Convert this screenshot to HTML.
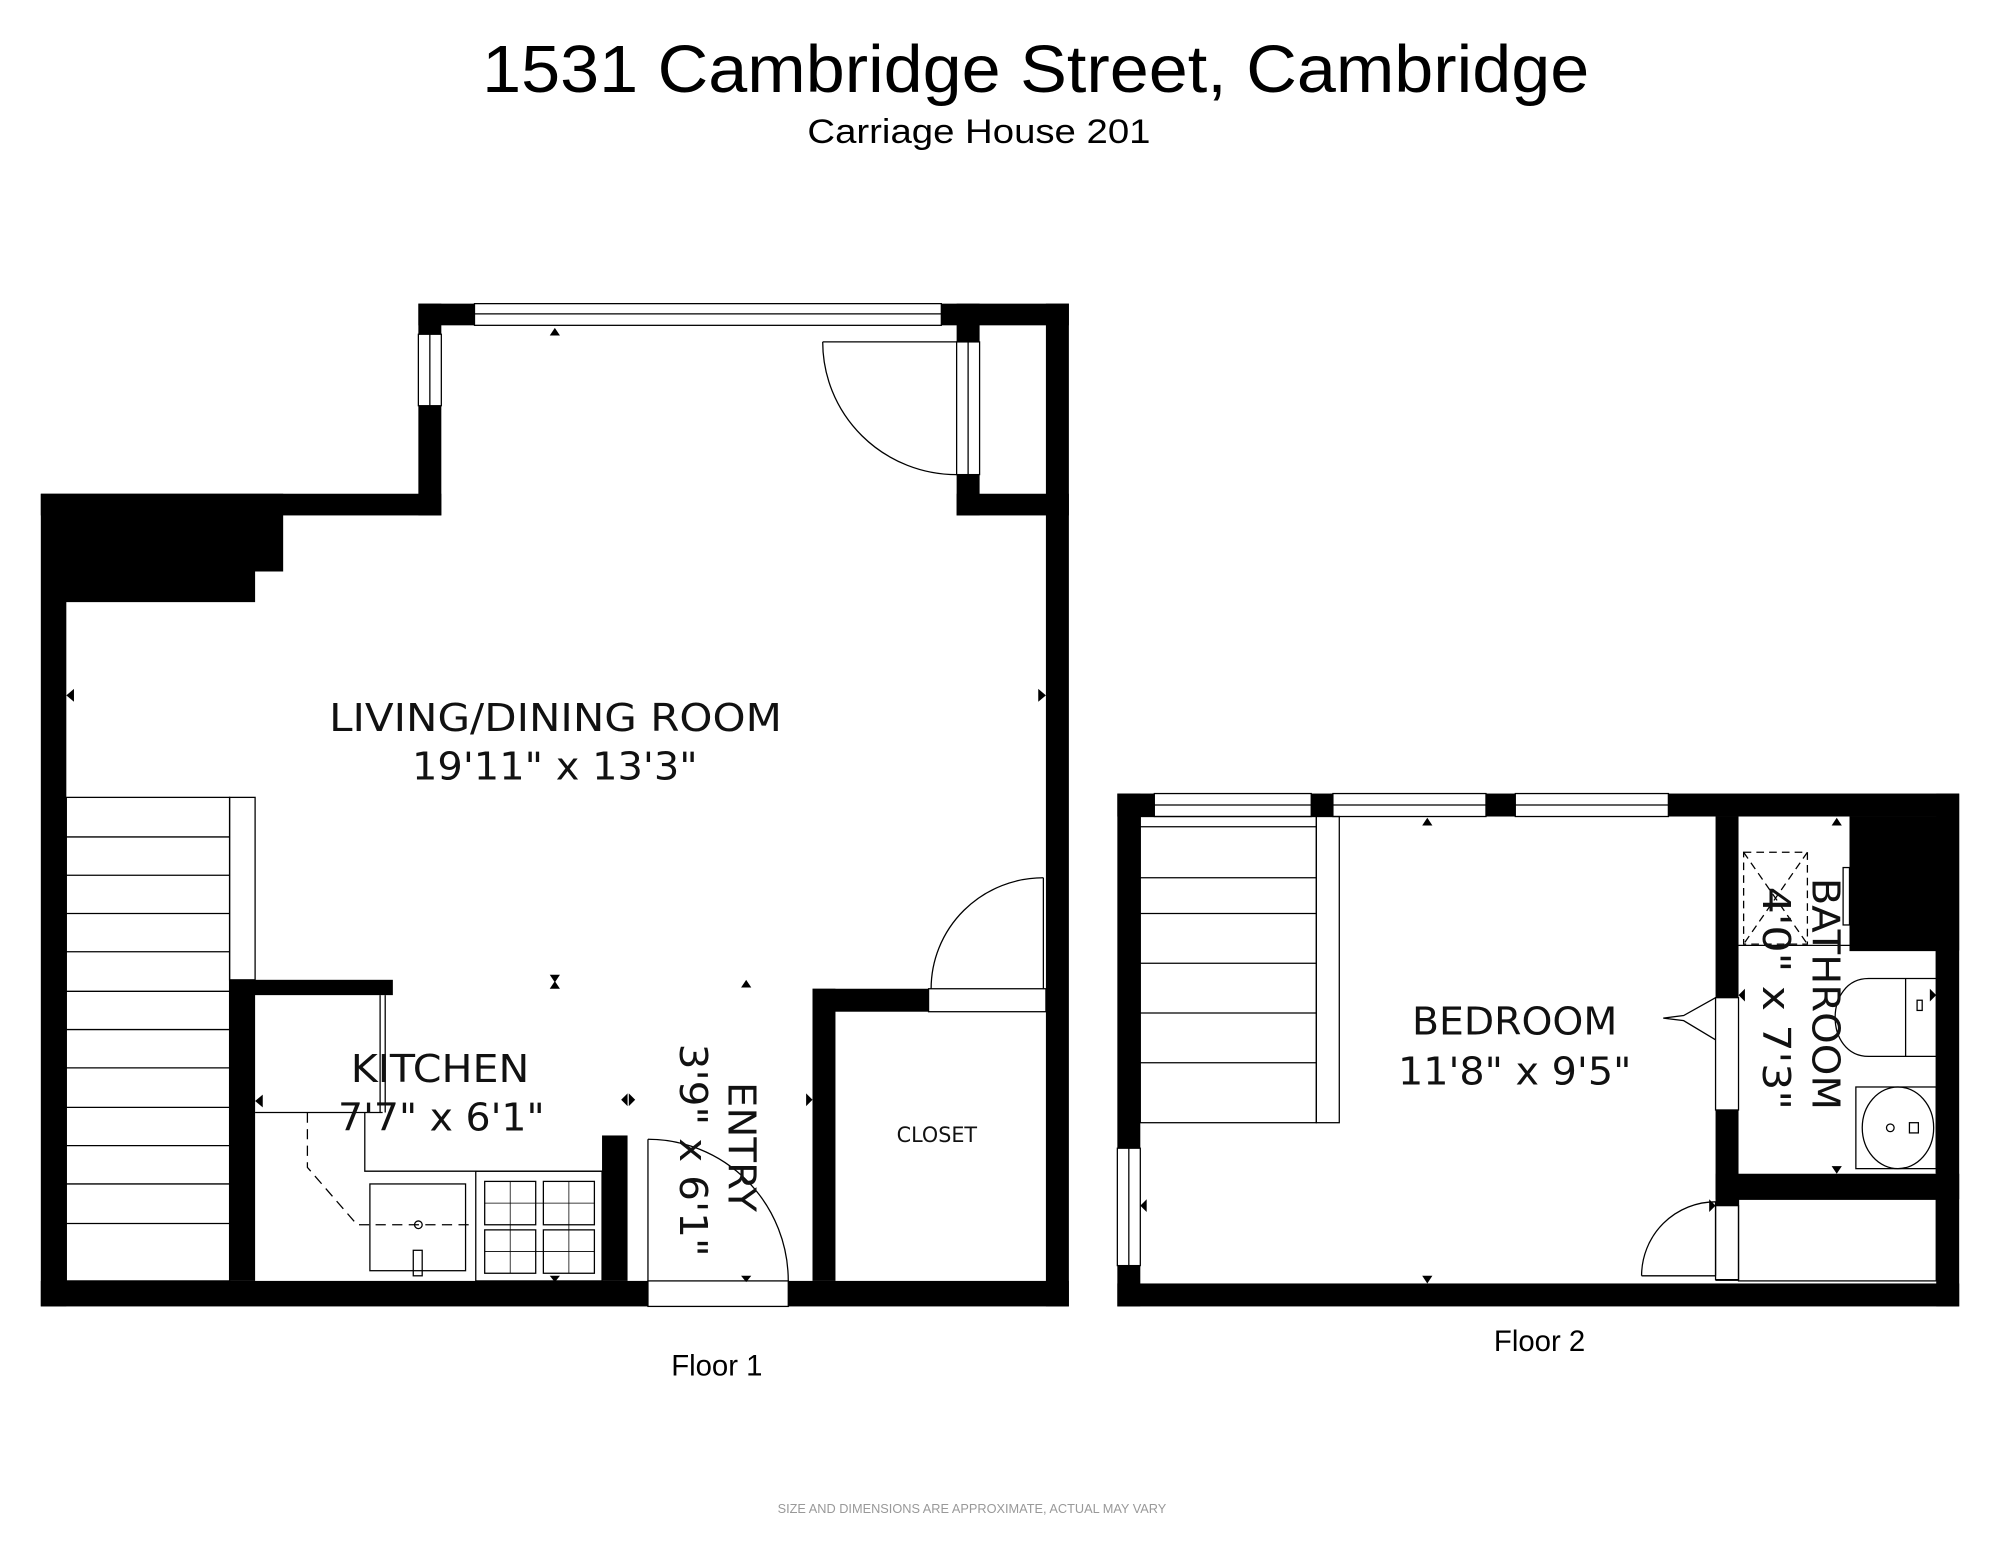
<!DOCTYPE html>
<html><head><meta charset="utf-8"><style>
html,body{margin:0;padding:0;background:#fff;}
svg{display:block}
.t{font-family:"Liberation Sans",sans-serif;fill:#000}
.r{font-family:"DejaVu Sans","Liberation Sans",sans-serif;fill:#111}
</style></head><body>
<svg width="2000" height="1545" viewBox="0 0 1568 1211" preserveAspectRatio="none" xmlns="http://www.w3.org/2000/svg">
<rect width="1568" height="1211" fill="#fff"/>
<text class="t" x="378" y="72" font-size="52" textLength="868" lengthAdjust="spacingAndGlyphs">1531 Cambridge Street, Cambridge</text>
<text class="t" x="633" y="112" font-size="27" textLength="269" lengthAdjust="spacingAndGlyphs">Carriage House 201</text>

<g fill="#000">
<rect x="328" y="238" width="510" height="17"/>
<rect x="328" y="238" width="18" height="166"/>
<rect x="32" y="387" width="314" height="17"/>
<polygon points="32,387 222,387 222,448 200,448 200,472 52,472 52,1024 32,1024"/>
<rect x="820" y="238" width="18" height="786"/>
<rect x="750" y="238" width="18" height="166"/>
<rect x="750" y="387" width="88" height="17"/>
<rect x="32" y="1004" width="806" height="20"/>
<rect x="180" y="768" width="20" height="236"/>
<rect x="180" y="768" width="128" height="12"/>
<rect x="472" y="890" width="20" height="114"/>
<rect x="637" y="775" width="18" height="229"/>
<rect x="637" y="775" width="91" height="18"/>
<rect x="876" y="622" width="660" height="18"/>
<rect x="876" y="622" width="18" height="402"/>
<rect x="876" y="1006" width="660" height="18"/>
<rect x="1518" y="622" width="18" height="402"/>
<rect x="1345" y="640" width="18" height="364"/>
<rect x="1450" y="640" width="86" height="105"/>
<rect x="1345" y="920" width="191" height="20"/>
</g>

<g fill="#fff" stroke="#000" stroke-width="1">
<rect x="372" y="238" width="366" height="17"/>
<line x1="372" y1="246" x2="738" y2="246"/>
<rect x="328" y="262" width="18" height="56"/>
<line x1="337" y1="262" x2="337" y2="318"/>
<rect x="750" y="268" width="18" height="104"/>
<line x1="759" y1="268" x2="759" y2="372"/>
<rect x="508" y="1004" width="110" height="20"/>
<rect x="728" y="775" width="92" height="18"/>
<rect x="905" y="622" width="123" height="18"/>
<rect x="1045" y="622" width="120" height="18"/>
<rect x="1188" y="622" width="120" height="18"/>
<line x1="905" y1="631" x2="1308" y2="631"/>
<rect x="876" y="900" width="18" height="92"/>
<line x1="885" y1="900" x2="885" y2="992"/>
<rect x="1345" y="782" width="18" height="88"/>
<rect x="1345" y="945" width="18" height="58"/>
</g>

<g fill="none" stroke="#000" stroke-width="1">
<rect x="52" y="625" width="128" height="379"/>
<rect x="180" y="625" width="20" height="143"/>
<line x1="52" y1="656" x2="180" y2="656"/><line x1="52" y1="686" x2="180" y2="686"/>
<line x1="52" y1="716" x2="180" y2="716"/><line x1="52" y1="746" x2="180" y2="746"/>
<line x1="52" y1="777" x2="180" y2="777"/><line x1="52" y1="807" x2="180" y2="807"/>
<line x1="52" y1="837" x2="180" y2="837"/><line x1="52" y1="868" x2="180" y2="868"/>
<line x1="52" y1="898" x2="180" y2="898"/><line x1="52" y1="928" x2="180" y2="928"/>
<line x1="52" y1="959" x2="180" y2="959"/>
<path d="M645,268 A105,104 0 0 0 750,372"/>
<line x1="645" y1="268" x2="750" y2="268"/>
<line x1="818" y1="688" x2="818" y2="775"/>
<path d="M730,775 A88,87 0 0 1 818,688"/>
<line x1="508" y1="893" x2="508" y2="1004"/>
<path d="M508,893 A110,111 0 0 1 618,1004"/>
<line x1="1345" y1="942" x2="1345" y2="1000"/>
<line x1="1287" y1="1000" x2="1345" y2="1000"/>
<path d="M1287,1000 A58,58 0 0 1 1345,942"/>
<line x1="200" y1="872" x2="300" y2="872"/>
<line x1="298" y1="780" x2="298" y2="872"/><line x1="302" y1="780" x2="302" y2="872"/>
<path d="M286,872 V918 H472"/>
<rect x="290" y="928" width="75" height="68"/>
<rect x="373" y="918" width="99" height="86"/>
<rect x="380" y="926" width="40" height="34"/><rect x="426" y="926" width="40" height="34"/>
<rect x="380" y="964" width="40" height="34"/><rect x="426" y="964" width="40" height="34"/>
<path d="M380,943 H466 M380,981 H466 M400,926 V998 M446,926 V998" stroke-width="0.6"/>
<rect x="324" y="980" width="7" height="20"/>
<circle cx="328" cy="960" r="3"/>
<path d="M241,872 V915 L280,960 H372" stroke-dasharray="8,5"/>
<rect x="894" y="640" width="138" height="240"/>
<rect x="1032" y="640" width="18" height="240"/>
<line x1="894" y1="648" x2="1032" y2="648"/><line x1="894" y1="688" x2="1032" y2="688"/>
<line x1="894" y1="716" x2="1032" y2="716"/><line x1="894" y1="755" x2="1032" y2="755"/>
<line x1="894" y1="794" x2="1032" y2="794"/><line x1="894" y1="833" x2="1032" y2="833"/>
<rect x="1367" y="668" width="50" height="72" stroke-dasharray="6,4"/>
<line x1="1367" y1="668" x2="1417" y2="740" stroke-dasharray="6,4"/>
<line x1="1417" y1="668" x2="1367" y2="740" stroke-dasharray="6,4"/>
<line x1="1363" y1="741" x2="1450" y2="741"/>
<path d="M1450,745 H1518 V920"/>
<path d="M1518,767 H1465 C1430,767 1430,828 1465,828 H1518"/>
<line x1="1494" y1="767" x2="1494" y2="828"/>
<rect x="1503" y="784" width="4" height="8"/>
<rect x="1455" y="852" width="63" height="64"/>
<ellipse cx="1488" cy="884" rx="28" ry="32"/>
<circle cx="1482" cy="884" r="3"/>
<rect x="1497" y="880" width="7" height="8"/>
<rect x="1445" y="680" width="5" height="45"/>
<polyline points="1345,782 1320,796 1304,798 1320,800 1345,815"/>
<rect x="1363" y="940" width="155" height="64"/>
</g>

<g fill="#000">
<polygon points="431,263 439,263 435,257"/>
<polygon points="52,545 58,540 58,550"/>
<polygon points="820,545 814,540 814,550"/>
<polygon points="431,764 439,764 435,770"/><polygon points="431,775 439,775 435,769"/>
<polygon points="581,774 589,774 585,768"/>
<polygon points="200,863 206,858 206,868"/>
<polygon points="487,862 492,857 492,867"/><polygon points="498,862 493,857 493,867"/>
<polygon points="637,862 632,857 632,867"/>
<polygon points="581,1000 589,1000 585,1005"/>
<polygon points="431,1000 439,1000 435,1005"/>
<polygon points="1115,647 1123,647 1119,641"/>
<polygon points="1115,1000 1123,1000 1119,1006"/>
<polygon points="894,945 899,940 899,950"/>
<polygon points="1345,945 1340,940 1340,950"/>
<polygon points="1436,647 1444,647 1440,641"/>
<polygon points="1436,914 1444,914 1440,920"/>
<polygon points="1363,780 1368,775 1368,785"/>
<polygon points="1518,780 1513,775 1513,785"/>
</g>

<g class="r">
<text x="258" y="573" font-size="30" textLength="355" lengthAdjust="spacingAndGlyphs">LIVING/DINING ROOM</text>
<text x="323" y="611" font-size="30" textLength="224" lengthAdjust="spacingAndGlyphs">19'11" x 13'3"</text>
<text x="275" y="848" font-size="30" textLength="140" lengthAdjust="spacingAndGlyphs">KITCHEN</text>
<text x="265" y="886" font-size="30" textLength="162" lengthAdjust="spacingAndGlyphs">7'7" x 6'1"</text>
<text x="703" y="895" font-size="17" textLength="63" lengthAdjust="spacingAndGlyphs">CLOSET</text>
<text x="1107" y="811" font-size="30" textLength="161" lengthAdjust="spacingAndGlyphs">BEDROOM</text>
<text x="1096" y="850" font-size="30" textLength="183" lengthAdjust="spacingAndGlyphs">11'8" x 9'5"</text>
<text transform="translate(571,848) rotate(90)" font-size="30" x="0" y="0" textLength="102" lengthAdjust="spacingAndGlyphs">ENTRY</text>
<text transform="translate(533,818) rotate(90)" font-size="30" x="0" y="0" textLength="167" lengthAdjust="spacingAndGlyphs">3'9" x 6'1"</text>
<text transform="translate(1421,688) rotate(90)" font-size="30" x="0" y="0" textLength="182" lengthAdjust="spacingAndGlyphs">BATHROOM</text>
<text transform="translate(1382,695) rotate(90)" font-size="30" x="0" y="0" textLength="175" lengthAdjust="spacingAndGlyphs">4'0" x 7'3"</text>
</g>

<text class="t" x="562" y="1078" font-size="23" text-anchor="middle">Floor 1</text>
<text class="t" x="1207" y="1059" font-size="23" text-anchor="middle">Floor 2</text>
<text class="t" x="762" y="1186" font-size="10" style="fill:#999" text-anchor="middle">SIZE AND DIMENSIONS ARE APPROXIMATE, ACTUAL MAY VARY</text>
</svg>
</body></html>
